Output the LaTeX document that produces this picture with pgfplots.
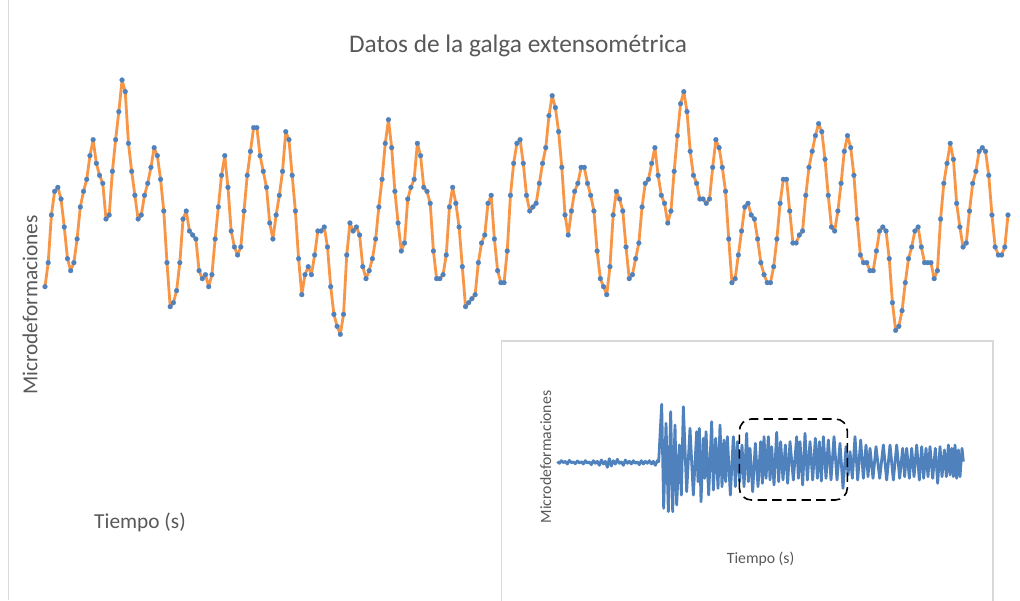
\documentclass[border=0pt]{standalone}
\usepackage{pgfplots}
\pgfplotsset{compat=1.18}
\usepackage{pgfplotstable}
\usepackage{fontspec}
\setmainfont{Carlito}
\definecolor{txt}{HTML}{595959}
\definecolor{orng}{HTML}{F79646}
\definecolor{blu}{HTML}{4F81BD}
\definecolor{frm}{HTML}{D9D9D9}

% main series: vertical pixel readings (larger = lower), one per sample
\pgfplotstableread{
v
650
578
435
364
352
387
471
566
602
578
507
411
364
328
257
209
280
316
340
447
435
304
209
125
30
65
220
304
376
447
435
376
340
292
233
257
328
423
578
710
698
662
578
447
423
483
495
507
602
626
614
650
614
507
411
316
257
352
483
531
555
531
423
316
244
173
173
257
304
352
459
507
435
376
304
185
209
316
423
566
674
614
590
614
555
483
483
471
531
650
733
769
793
733
555
459
483
471
495
590
626
602
566
507
411
328
220
149
233
364
459
543
519
387
352
328
220
257
352
364
400
543
626
626
614
555
411
352
400
471
590
710
698
686
674
578
519
495
400
376
507
602
638
638
543
376
280
220
209
280
376
423
411
400
340
280
233
137
77
113
185
292
435
495
423
364
340
292
292
340
376
423
543
626
650
674
590
435
364
387
423
531
626
614
566
519
411
340
328
280
233
316
376
400
459
423
304
197
101
65
125
244
316
340
387
387
400
387
292
209
233
292
364
507
638
626
555
483
411
400
435
447
507
578
614
638
638
590
507
400
328
328
423
519
519
495
483
376
292
244
197
161
185
268
376
471
483
423
340
244
197
233
316
447
555
578
578
602
602
543
483
471
483
566
698
781
769
722
638
566
531
483
471
531
578
578
578
626
602
447
340
280
220
268
400
471
531
519
423
340
304
244
233
244
316
435
531
555
555
531
435
}\maindata

\pgfplotstableread{
x y
172 365
178 370
184 362
190 368
196 364
202 372
208 361
214 368
220 366
226 371
232 363
238 369
244 365
250 372
256 362
262 369
268 366
274 374
280 362
286 370
292 364
298 376
304 360
310 372
316 364
322 382
328 356
334 378
340 362
346 372
352 358
358 370
364 366
370 376
376 360
382 370
388 364
394 372
400 362
406 370
412 366
418 374
424 362
430 372
436 364
442 370
448 362
454 372
460 364
466 376
472 362
476 365
485 193
491 505
498 250
505 515
512 215
518 515
525 255
530 495
538 315
544 465
550 200
560 455
570 265
580 465
590 275
594 425
598 265
603 485
610 295
614 415
618 275
626 465
635 245
640 450
647 295
654 445
660 255
666 440
672 300
677 425
682 290
691 465
700 290
706 440
712 305
719 425
726 315
732 440
740 280
745 425
750 325
758 455
766 310
774 440
782 305
787 430
792 290
798 415
805 290
810 420
815 320
822 435
830 277
836 425
842 305
849 420
856 315
863 430
870 305
880 420
890 290
895 415
900 305
908 435
915 280
922 420
930 305
938 420
946 295
952 415
958 305
964 423
970 290
978 415
985 300
993 420
1002 290
1011 420
1020 310
1029 445
1038 320
1044 405
1050 335
1057 415
1065 290
1073 420
1082 300
1090 415
1098 315
1104 410
1110 325
1119 415
1128 320
1139 415
1150 315
1160 420
1170 315
1180 420
1190 315
1199 415
1208 325
1214 410
1220 325
1228 415
1235 325
1242 410
1250 315
1258 420
1265 320
1271 415
1278 325
1284 410
1290 320
1298 415
1306 325
1313 430
1320 320
1326 410
1333 330
1339 410
1345 315
1350 405
1355 325
1360 410
1365 315
1370 415
1375 330
1380 410
1386 325
1390 365
}\insetdata

\begin{document}
\begin{tikzpicture}
\useasboundingbox (0,0) rectangle (765pt,450pt);
\fill[white] (0,0) rectangle (765pt,450pt);
% outer chart frame (left edge visible)
\draw[frm, line width=0.8pt] (6.4pt,0pt) -- (6.4pt,450pt);

\node[txt, font=\fontsize{19}{22}\selectfont] at (388.5pt,415.5pt) {Datos de la galga extensométrica};
\node[txt, font=\fontsize{16}{19}\selectfont, rotate=90] at (22.5pt,221.25pt) {Microdeformaciones};
\node[txt, font=\fontsize{16}{19}\selectfont] at (105pt,58.5pt) {Tiempo (s)};

\begin{axis}[at={(33.75pt,195pt)}, anchor=south west, width=722.25pt, height=202.5pt,
  scale only axis, hide axis, xmin=0, xmax=300, ymin=0, ymax=810, clip=false]
\addplot[draw=orng, line width=2.1pt, line join=round, mark=*, mark size=1.8pt,
  mark options={solid, draw=blu, fill=blu, line width=0.2pt}]
  table[x index=0, y index=0, x expr=\coordindex, y expr=810-\thisrow{v}] {\maindata};
\end{axis}

% inset frame
\fill[white] (376.1pt,-5pt) rectangle (744.75pt,194.25pt);
\draw[frm, line width=1.1pt] (376.1pt,-5pt) -- (376.1pt,194.25pt) -- (744.75pt,194.25pt) -- (744.75pt,-5pt);

\node[txt, font=\fontsize{11.8}{14}\selectfont, rotate=90] at (409.3pt,107.25pt) {Microdeformaciones};
\node[txt, font=\fontsize{11.8}{14}\selectfont] at (570.5pt,30.5pt) {Tiempo (s)};

\begin{axis}[at={(375pt,0pt)}, anchor=south west, width=390pt, height=195pt,
  scale only axis, hide axis, xmin=0, xmax=1560, ymin=0, ymax=780, clip=false]
\addplot[blu, line width=2.1pt, line join=round] table[x=x, y expr=780-\thisrow{y}] {\insetdata};
\draw[black, line width=1.2pt, dash pattern=on 7pt off 4pt, rounded corners=9pt]
  (axis cs:718,300) rectangle (axis cs:1042,543);
\end{axis}
\end{tikzpicture}
\end{document}
